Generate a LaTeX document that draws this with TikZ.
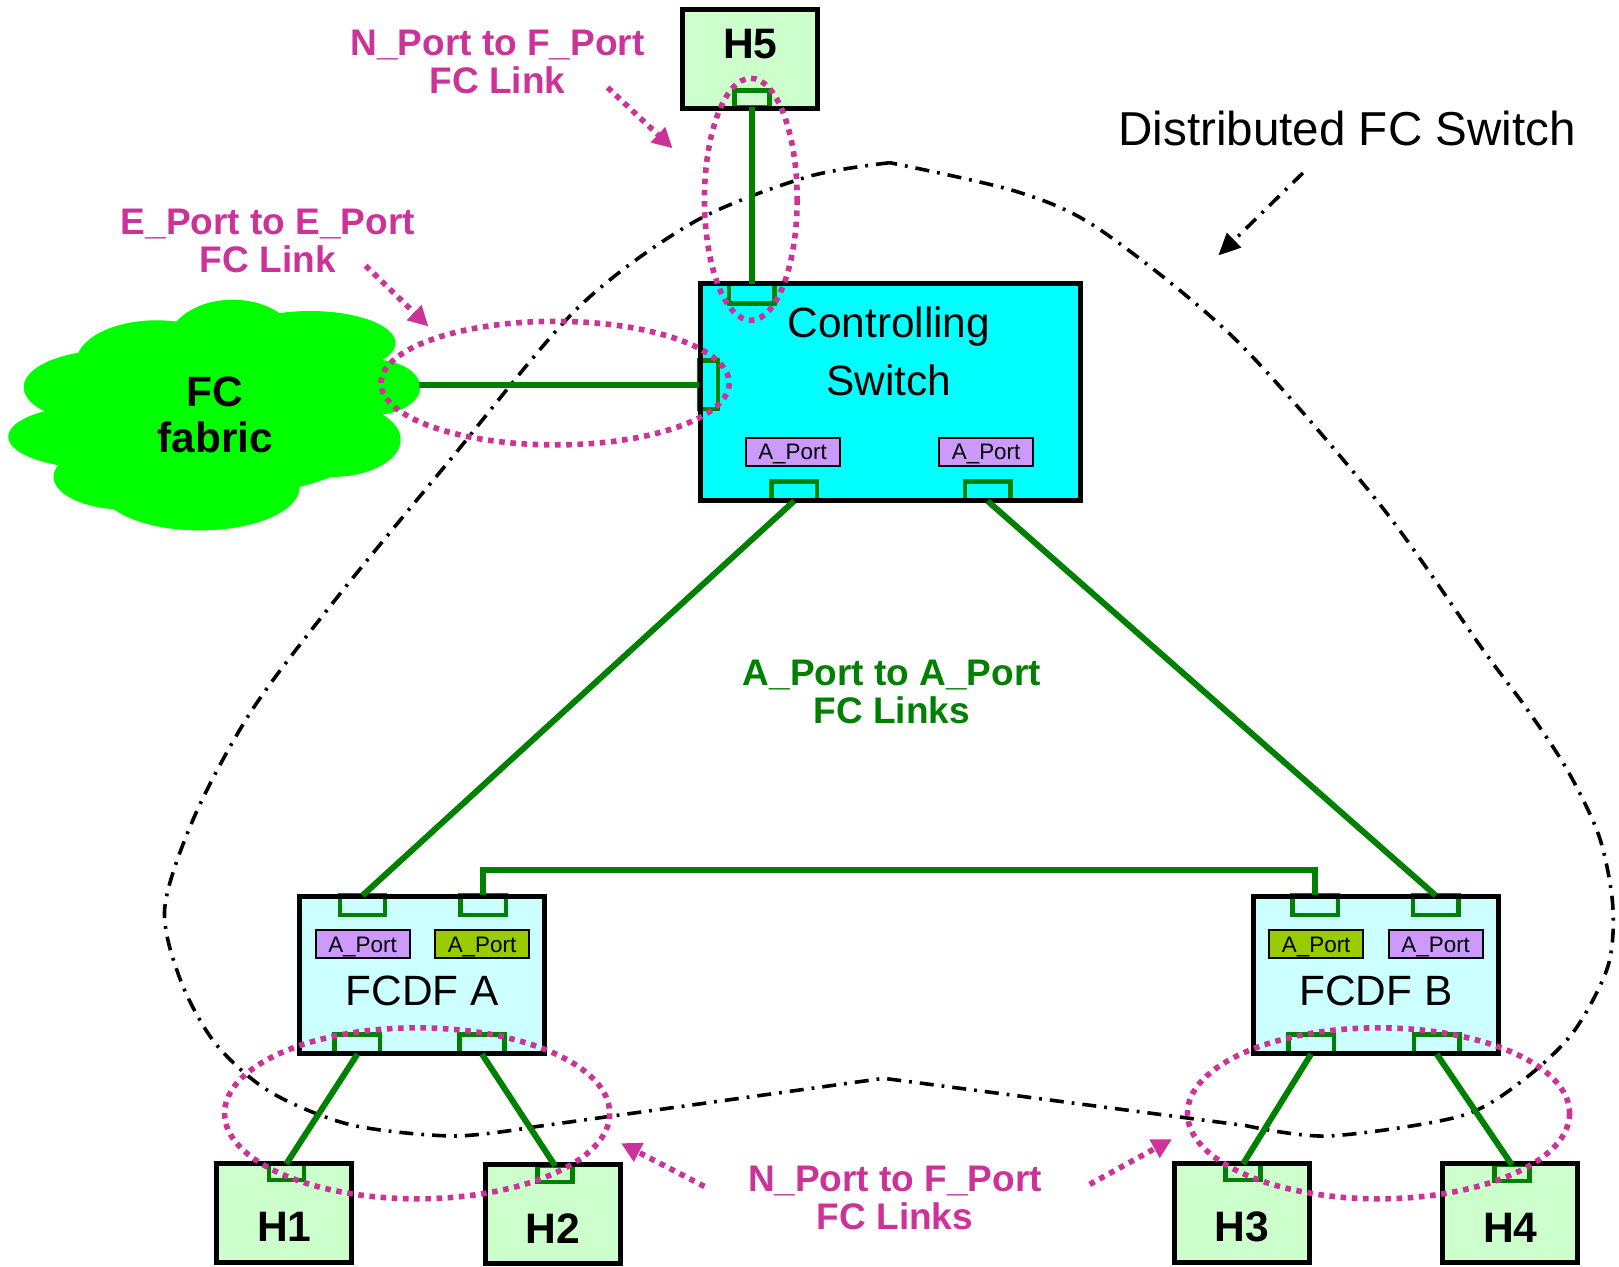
\documentclass[tikz,border=0pt]{standalone}
\usepackage{fontspec}
\setmainfont{Liberation Sans}
\usetikzlibrary{arrows.meta}

\definecolor{linkgreen}{RGB}{0,128,0}
\definecolor{notepink}{RGB}{204,51,153}
\definecolor{hostfill}{RGB}{204,255,204}
\definecolor{fcdffill}{RGB}{204,255,255}
\definecolor{switchfill}{RGB}{0,255,255}
\definecolor{aportlilac}{RGB}{204,153,255}
\definecolor{aportolive}{RGB}{153,204,0}
\definecolor{fabricgreen}{RGB}{0,255,0}

\tikzset{
  hostbox/.style={fill=hostfill, minimum width=67.5pt, minimum height=49.4pt, inner sep=0pt, outer sep=0pt},
  hostname/.style={font=\bfseries\fontsize{21.3}{24}\selectfont},
  switchbox/.style={fill=switchfill, minimum width=190pt, minimum height=108.2pt, inner sep=0pt, outer sep=0pt},
  fcdfbox/.style={fill=fcdffill, minimum width=122.6pt, minimum height=78.8pt, inner sep=0pt, outer sep=0pt},
  boxname/.style={font=\fontsize{21.2}{28.8}\selectfont, align=center},
  aport/.style={draw=black, line width=1pt, minimum width=47pt, minimum height=14pt, inner sep=0pt,
    text height=8pt, text depth=0pt, font=\fontsize{11.2}{13}\selectfont},
  port/.style={draw=linkgreen, line width=2.2pt, inner sep=0pt, outer sep=0pt, minimum width=22.7pt, minimum height=9.8pt},
  hostport/.style={port, minimum width=17.5pt, minimum height=8.2pt},
  link/.style={draw=linkgreen, line width=3pt},
  ring/.style={draw=notepink, line width=2.8pt, dash pattern=on 2.8pt off 2.8pt},
  pointer/.style={ring, -{Triangle[length=10pt,width=10pt]}},
  note/.style={text=notepink, font=\bfseries\fontsize{18.5}{19.3}\selectfont, align=center},
  fcswitch/.style={draw=black, line width=1.8pt, dash pattern=on 7pt off 4pt on 1.4pt off 4pt}
}

\begin{document}
\begin{tikzpicture}[x=0.515pt,y=-0.515pt]
\useasboundingbox (0,0) rectangle (1572,1230);

% FC fabric cloud
\foreach \cx/\cy/\rx/\ry in {226/337/65/46, 152/352/78/41, 301/333/83/31, 362/376/46/27,
    323/427/66/36, 194/473/97/42, 123/463/71/32, 97/424/89/31, 107/376/84/36, 211/411/162/71}
  \fill[fabricgreen] (\cx,\cy) ellipse [x radius=\rx, y radius=\ry];
\node[font=\bfseries\fontsize{21.2}{23}\selectfont, align=center] (fabric) at (209,403) {FC\\fabric};
\coordinate (fabedge) at (407,373.5);

% distributed switch outline
\draw[fcswitch] plot[smooth] coordinates {(864,158) (783,172) (673,216) (560,300) (435,449)
    (325,583) (245,689) (190,790) (160,881) (175,951) (209,1013) (262,1060) (340,1092) (440,1103)
    (520,1094)}
  -- (858,1047)
  -- plot[smooth] coordinates {(1210,1093) (1290,1103) (1417,1084) (1476,1051) (1527,1003) (1561,939)
    (1566,880) (1553,813) (1522,748) (1483,689) (1440,631) (1340,490) (1200,330) (1068,223)
    (987,186) (864,158)};
\node[font=\fontsize{23.8}{28}\selectfont] (dfslbl) at (1308,125) {Distributed FC Switch};
\coordinate (dfsa) at (1265,168);
\coordinate (dfsb) at (1183,248);
\draw[fcswitch, -{Triangle[length=11pt,width=10pt]}] (dfsa) -- (dfsb);

% boxes
\node[hostbox, label={[hostname, yshift=7.5pt]center:H5}] (h5) at (728.5,57) {};
\node[switchbox] (cs) at (865,380.5) {};
\node[boxname] (cstext) at (863,341) {Controlling\\Switch};
\node[aport, fill=aportlilac] (csa1) at (769.5,438.5) {A\_Port};
\node[aport, fill=aportlilac] (csa2) at (957.5,438.5) {A\_Port};

\node[fcdfbox] (fa) at (410,946.5) {};
\node[aport, fill=aportlilac] (faa1) at (352,917) {A\_Port};
\node[aport, fill=aportolive] (faa2) at (468,917) {A\_Port};
\node[boxname] (fatext) at (410,962) {FCDF A};

\node[fcdfbox] (fb) at (1336,946.5) {};
\node[aport, fill=aportolive] (fba1) at (1278,917) {A\_Port};
\node[aport, fill=aportlilac] (fba2) at (1394,917) {A\_Port};
\node[boxname] (fbtext) at (1336,962) {FCDF B};

\node[hostbox, label={[hostname, yshift=-7.2pt]center:H1}] (h1) at (276,1177.5) {};
\node[hostbox, label={[hostname, yshift=-7.2pt]center:H2}] (h2) at (537,1178.5) {};
\node[hostbox, label={[hostname, yshift=-7.2pt]center:H3}] (h3) at (1205.5,1177.5) {};
\node[hostbox, label={[hostname, yshift=-7.2pt]center:H4}] (h4) at (1466.5,1178) {};

% ports
\node[hostport] (h5p) at (730,96) {};
\node[port] (cst) at (730,285) {};
\node[port, minimum width=9.3pt, minimum height=24.2pt] (csl) at (688,373.5) {};
\node[port] (csb1) at (771,477) {};
\node[port] (csb2) at (959,477) {};
\node[port] (fat1) at (352,879) {};
\node[port] (fat2) at (469,879) {};
\node[port] (fbt1) at (1277,879) {};
\node[port] (fbt2) at (1394,879) {};
\node[port] (fab1) at (347,1014) {};
\node[port] (fab2) at (468,1014) {};
\node[port] (fbb1) at (1273,1014) {};
\node[port] (fbb2) at (1395,1014) {};
\node[hostport] (h1p) at (278,1138) {};
\node[hostport] (h2p) at (539,1140) {};
\node[hostport] (h3p) at (1207,1138) {};
\node[hostport] (h4p) at (1468,1139) {};

\foreach \b in {h5,cs,fa,fb,h1,h2,h3,h4}
  \draw[line width=2.5pt] (\b.north west) rectangle (\b.south east);

% links
\draw[link] (fabedge) -- (csl.west);
\draw[link] (h5p.south) -- (cst.north);
\draw[link] (csb1.south) -- (fat1.north);
\draw[link] (csb2.south) -- (fbt2.north);
\draw[link] (fat2.north) -- ++(0,-25) -| (fbt1.north);
\draw[link] (fab1.south) -- (h1p.north);
\draw[link] (fab2.south) -- (h2p.north);
\draw[link] (fbb1.south) -- (h3p.north);
\draw[link] (fbb2.south) -- (h4p.north);

% link rings and notes
\draw[ring] (729,193.5) ellipse [x radius=45, y radius=117.5];
\draw[ring] (539,372) ellipse [x radius=169, y radius=60];
\draw[ring] (405,1081) ellipse [x radius=187, y radius=83];
\draw[ring] (1338.5,1081) ellipse [x radius=185.5, y radius=83];

\node[note] (nflbl) at (483,60) {N\_Port to F\_Port\\FC Link};
\node[note] (eelbl) at (260,234) {E\_Port to E\_Port\\FC Link};
\node[note, text=linkgreen] (aalbl) at (866,672) {A\_Port to A\_Port\\FC Links};
\node[note] (nfslbl) at (869,1163) {N\_Port to F\_Port\\FC Links};

\coordinate (nfa) at (590,85);
\coordinate (nfb) at (653,144);
\coordinate (eea) at (355,258);
\coordinate (eeb) at (416,317);
\coordinate (nfsa) at (684,1152);
\coordinate (nfsb) at (603,1110);
\coordinate (nfsc) at (1058,1150);
\coordinate (nfsd) at (1138,1106);
\draw[pointer] (nfa) -- (nfb);
\draw[pointer] (eea) -- (eeb);
\draw[pointer] (nfsa) -- (nfsb);
\draw[pointer] (nfsc) -- (nfsd);
\end{tikzpicture}
\end{document}
